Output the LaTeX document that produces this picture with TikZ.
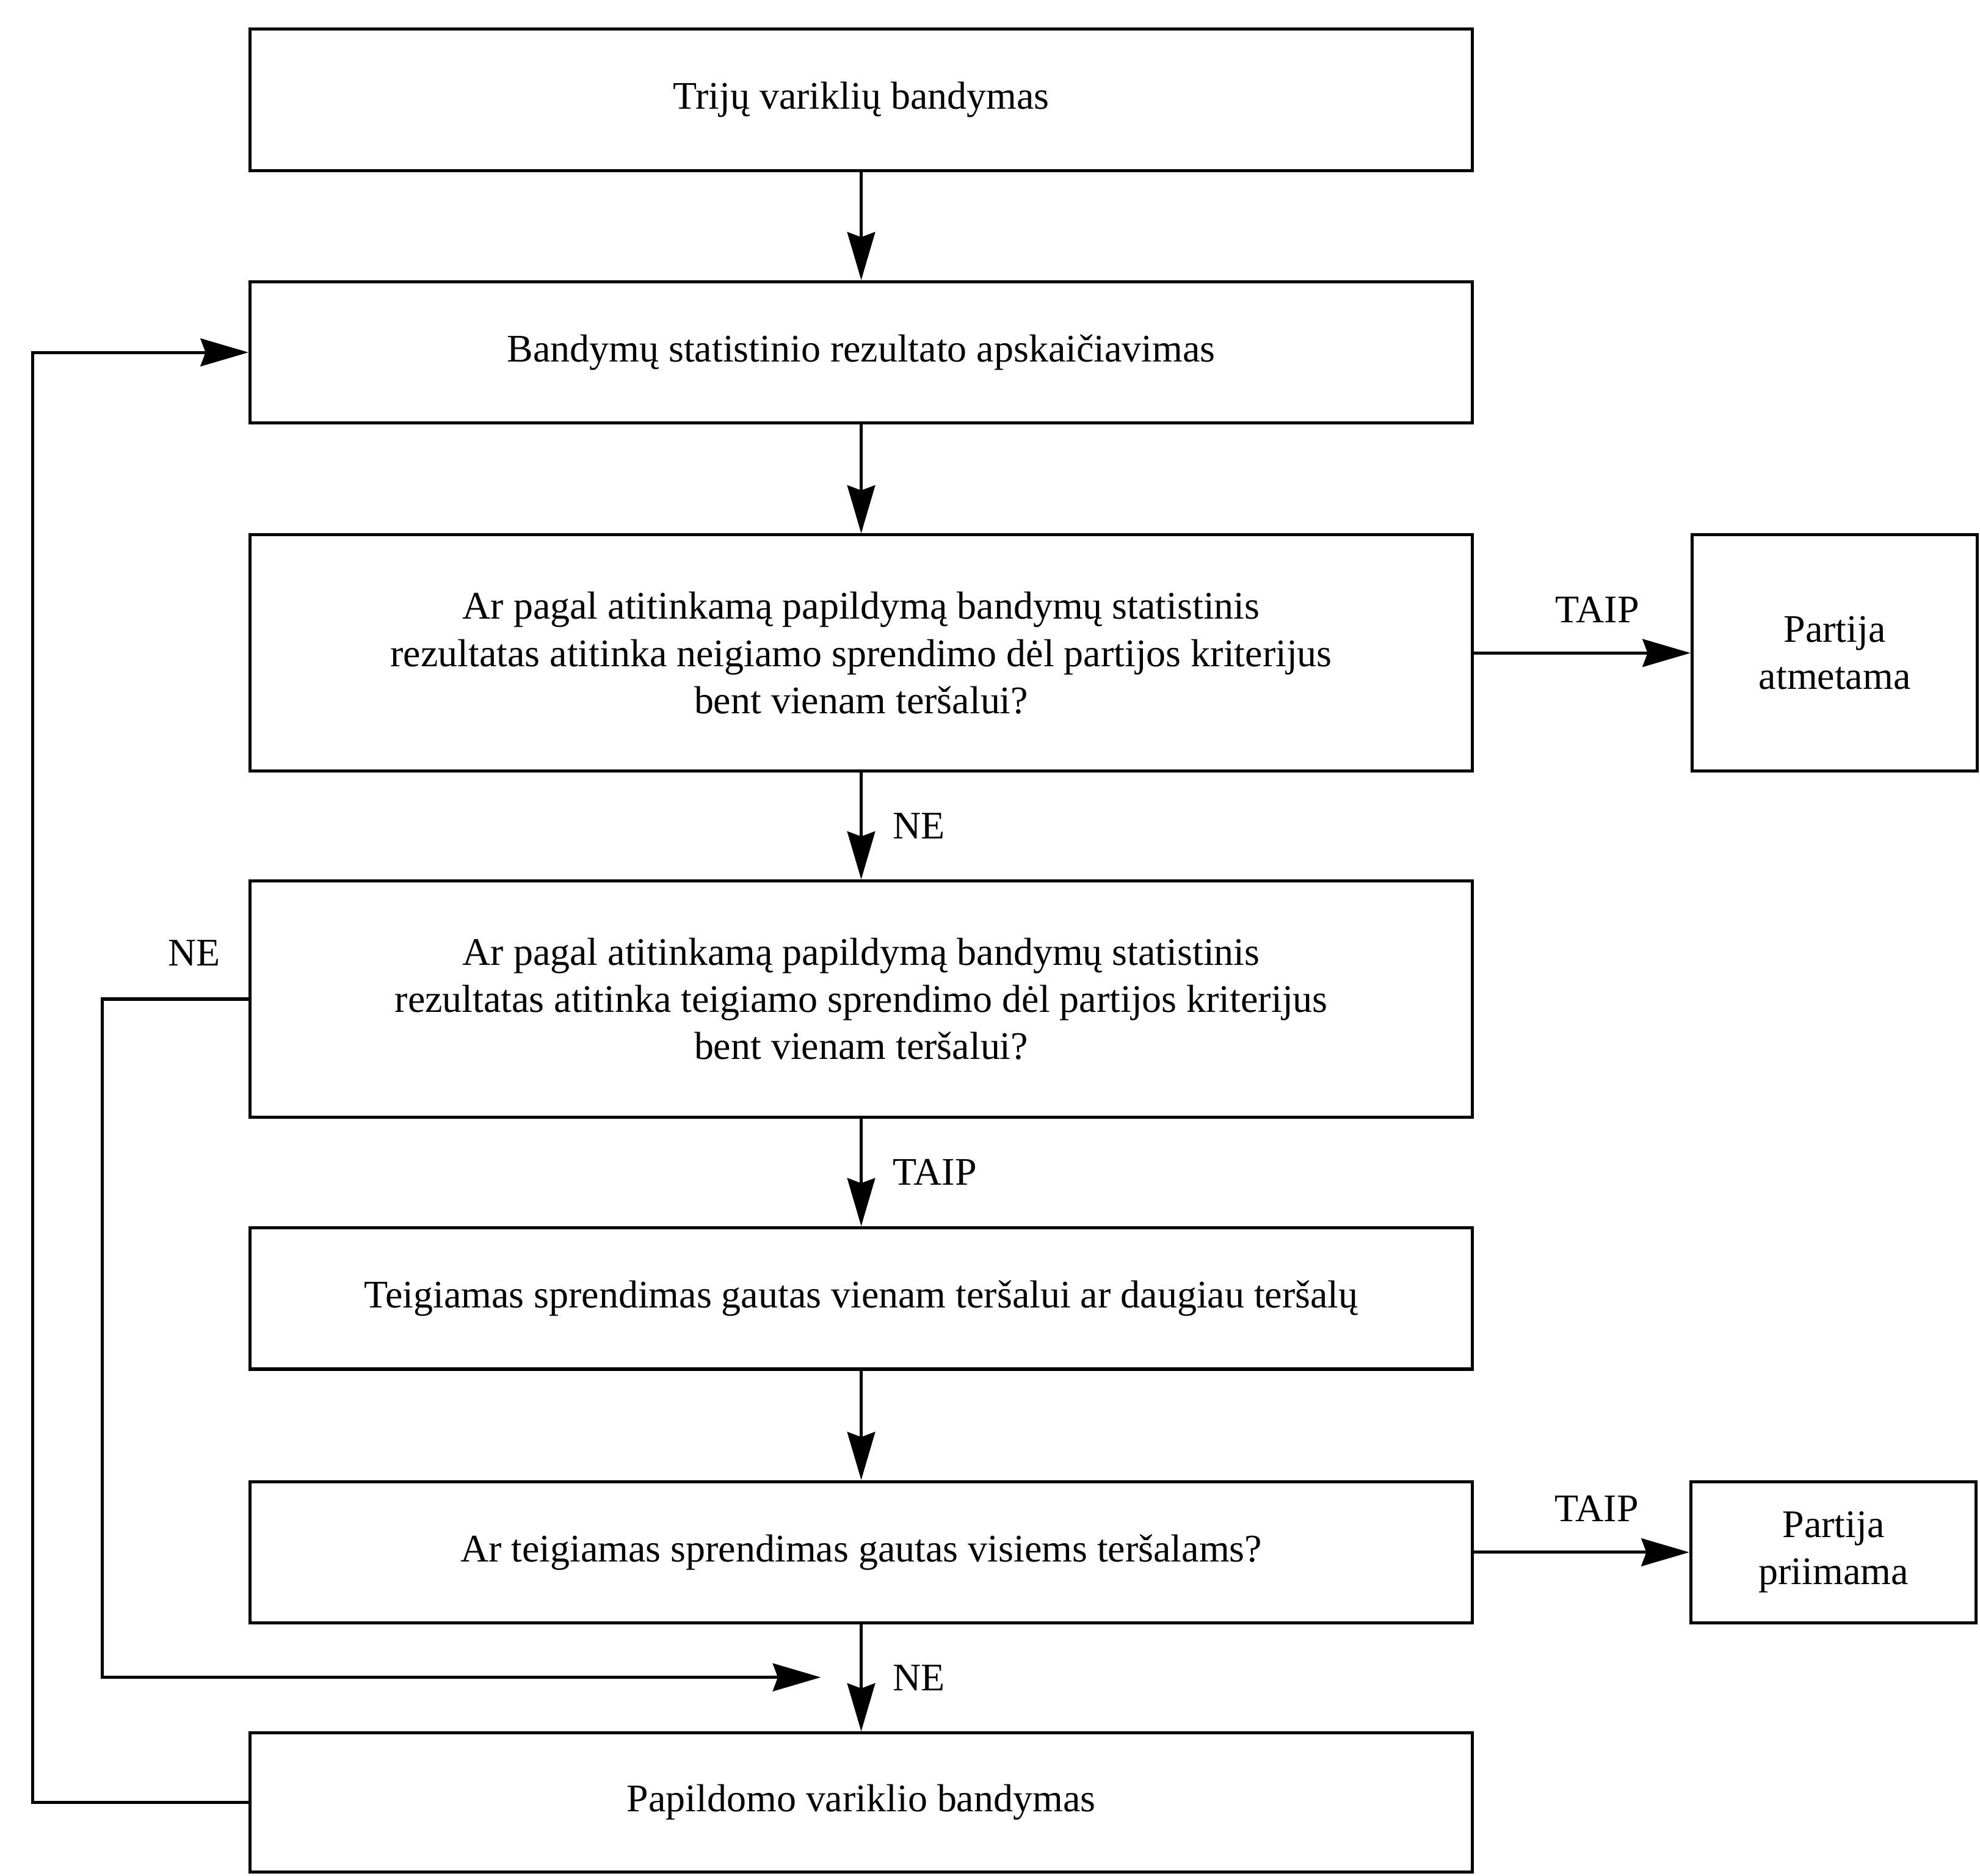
\documentclass[tikz,border=0pt]{standalone}
\usepackage{fontspec}
\setmainfont{Liberation Serif}
\usetikzlibrary{arrows.meta}

\begin{document}
\begin{tikzpicture}[x=0.1mm, y=-0.1mm, line width=0.7pt,
    >={Stealth[length=3.8mm, width=2.2mm, inset=0.4mm]},
    main/.style={rectangle, draw, minimum width=96.8mm, minimum height=11.2mm, inner sep=0pt, align=center, font=\fontsize{8.8}{10.6}\selectfont},
    tall/.style={main, minimum height=18.7mm},
    side/.style={rectangle, draw, minimum width=22.6mm, minimum height=11.2mm, inner sep=0pt, align=center, font=\fontsize{8.8}{10.6}\selectfont},
    lbl/.style={inner sep=0pt, font=\fontsize{8.8}{10.6}\selectfont}]

    \useasboundingbox (0,0) rectangle (1568,1485);

    \node[main] (B1) at (682,79) {Trijų variklių bandymas};
    \node[main] (B2) at (682,279) {Bandymų statistinio rezultato apskaičiavimas};
    \node[tall] (B3) at (682,517) {Ar pagal atitinkamą papildymą bandymų statistinis\\ rezultatas atitinka neigiamo sprendimo dėl partijos kriterijus\\ bent vienam teršalui?};
    \node[side, minimum height=18.7mm] (ATM) at (1453,517) {Partija\\ atmetama};
    \node[tall] (B4) at (682,791) {Ar pagal atitinkamą papildymą bandymų statistinis\\ rezultatas atitinka teigiamo sprendimo dėl partijos kriterijus\\ bent vienam teršalui?};
    \node[main] (B5) at (682,1028) {Teigiamas sprendimas gautas vienam teršalui ar daugiau teršalų};
    \node[main] (B6) at (682,1229) {Ar teigiamas sprendimas gautas visiems teršalams?};
    \node[side] (PRI) at (1452,1229) {Partija\\ priimama};
    \node[main, minimum height=11mm] (B7) at (682,1427) {Papildomo variklio bandymas};

    \coordinate (J) at (650,1328);

    \draw[->] (B1) -- (B2);
    \draw[->] (B2) -- (B3);
    \draw[->] (B3) -- node[lbl, pos=0.57, above=2.3mm] {TAIP} (ATM);
    \draw[->] (B3) -- node[lbl, right=2.4mm] {NE} (B4);
    \draw[->] (B4) -- node[lbl, right=2.4mm] {TAIP} (B5);
    \draw[->] (B5) -- (B6);
    \draw[->] (B6) -- node[lbl, pos=0.57, above=2.3mm] {TAIP} (PRI);
    \draw[->] (B6) -- node[lbl, right=2.4mm] {NE} (B7);
    \draw[->] (B4.west) -- node[lbl, pos=0.37, above=2.5mm] {NE} ++(-116,0) |- (J);
    \draw[->] (B7.west) -- ++(-171,0) |- (B2.west);
\end{tikzpicture}
\end{document}
